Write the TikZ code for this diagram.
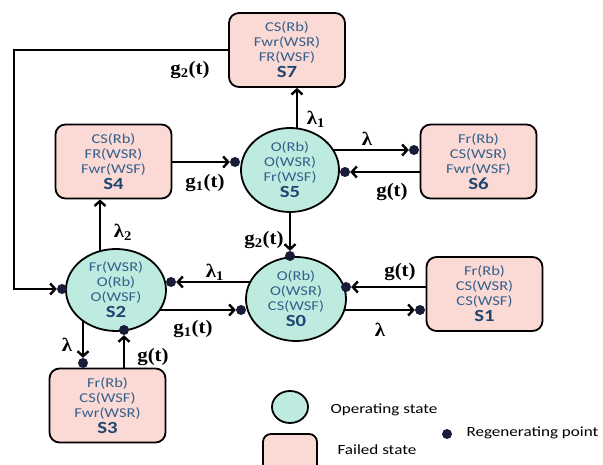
\documentclass[tikz,border=0pt]{standalone}
\usepackage{amsmath}
\usepackage{fontspec}
\setmainfont{Carlito}[FakeStretch=1.22]
\newfontfamily\ratefont{Liberation Serif}[FakeStretch=1.1]
\usetikzlibrary{shapes.geometric,arrows.meta,backgrounds}
\definecolor{failpink}{RGB}{251,217,212}
\definecolor{optcol}{RGB}{190,235,224}
\definecolor{txtblue}{RGB}{52,96,140}
\definecolor{stblue}{RGB}{31,70,112}
\definecolor{dotcol}{RGB}{24,28,54}
\tikzset{
  failbox/.style={draw,line width=1.8pt,rounded corners=10pt,fill=failpink,minimum width=116pt,minimum height=74pt,
    align=center,text=txtblue,font=\fontsize{13.5}{15}\selectfont,inner sep=1pt},
  opstate/.style={draw,ellipse,line width=1.8pt,fill=optcol,minimum width=#1,minimum height=84pt,inner sep=0pt,
    align=center,text=txtblue,font=\fontsize{13.5}{15}\selectfont},
  regpt/.style={circle,fill=dotcol,inner sep=0pt,minimum size=10pt},
  conn/.style={line width=2.4pt,-{Straight Barb[length=5pt,width=11pt,line width=2.4pt]}},
  lbl/.style={font=\ratefont\bfseries\fontsize{19}{21}\selectfont},
  legtxt/.style={anchor=west,font=\fontsize{14}{16}\selectfont}
}
\newcommand{\stname}[1]{\\[1pt]{\color{stblue}\bfseries\fontsize{17}{18}\selectfont #1}}
\newcommand{\rate}[2]{#1\textsubscript{#2}}
\begin{document}
\begin{tikzpicture}[x=1pt,y=-1pt]
\useasboundingbox (0,0) rectangle (603,465);
% states
\node[failbox] (S7) at (287,50) {CS(Rb)\\Fwr(WSR)\\FR(WSF)\stname{S7}};
\node[failbox] (S4) at (113.5,161.5) {CS(Rb)\\FR(WSR)\\Fwr(WSF)\stname{S4}};
\node[failbox] (S6) at (478.5,161.5) {Fr(Rb)\\CS(WSR)\\Fwr(WSF)\stname{S6}};
\node[failbox] (S1) at (484.5,294) {Fr(Rb)\\CS(WSR)\\CS(WSF)\stname{S1}};
\node[failbox] (S3) at (107.5,405.5) {Fr(Rb)\\CS(WSF)\\Fwr(WSR)\stname{S3}};
\node[opstate=98pt] (S5) at (290,170) {O(Rb)\\O(WSR)\\Fr(WSF)\stname{S5}};
\node[opstate=100pt,minimum height=82pt] (S2) at (116,290) {Fr(WSR)\\O(Rb)\\O(WSF)\stname{S2}};
\node[opstate=100pt] (S0) at (296,299) {O(Rb)\\O(WSR)\\CS(WSF)\stname{S0}};
% regenerating points
\foreach \p/\xy in {dS2w/{62,289},dS5w/{235,162},dS6w/{414,150},dS5e/{345,172},dS0n/{290,256},
  dS2e/{171,282},dS0w/{241,310},dS0e/{346,287},dS1w/{420,310},dS3n/{83,363},dS2s/{124,330}}
  \node[regpt] (\p) at (\xy) {};
\coordinate (loop) at (14,170);
% transitions
\begin{scope}[on background layer]
\draw[conn] ([xshift=7pt]S5.center) -- ([xshift=10pt]S7.south);
\draw[conn] (S5.center |- dS6w) -- (dS6w);
\draw[conn] ([xshift=-13.5pt]S4.south |- S2.center) -- ([xshift=-13.5pt]S4.south);
\draw[conn] (S0.center |- dS2e) -- (dS2e);
\draw[conn] (S2.center |- dS0w) -- (dS0w);
\draw[conn] (S0.center |- dS1w) -- (dS1w);
\draw[conn] (S2.center -| dS3n) -- (dS3n);
\end{scope}
\draw[conn] (S7.west) -| (loop) |- (dS2w);
\draw[conn] (S4.east |- dS5w) -- (dS5w);
\draw[conn] (S6.west |- dS5e) -- (dS5e);
\draw[conn] (S5) -- (dS0n);
\draw[conn] (S1.west |- dS0e) -- (dS0e);
\draw[conn] (S3.north -| dS2s) -- (dS2s);
% rates
\node[lbl] (l1) at (190,70) {\rate{g}{2}(t)};
\node[lbl] (l2) at (316,119) {\rate{λ}{1}};
\node[lbl] (l3) at (205,183) {\rate{g}{1}(t)};
\node[lbl] (l4) at (367,139) {λ};
\node[lbl] (l5) at (392,192) {g(t)};
\node[lbl] (l6) at (264,240) {\rate{g}{2}(t)};
\node[lbl] (l7) at (123,232) {\rate{λ}{2}};
\node[lbl] (l8) at (215,272) {\rate{λ}{1}};
\node[lbl] (l9) at (193,329) {\rate{g}{1}(t)};
\node[lbl] (l10) at (400,272) {g(t)};
\node[lbl] (l11) at (380,330) {λ};
\node[lbl] (l12) at (67,345) {λ};
\node[lbl] (l13) at (153,357) {g(t)};
% legend
\node[draw,ellipse,line width=1.8pt,fill=optcol,minimum width=36pt,minimum height=32pt] (legop) at (290,407) {};
\node[legtxt] (legoptxt) at (327,410) {Operating state};
\draw[line width=1.8pt,rounded corners=8pt,fill=failpink] (263,476) rectangle (317,434);
\node[legtxt] (legfailtxt) at (334,450) {Failed state};
\node[regpt] (legreg) at (447,434) {};
\node[legtxt] (legregtxt) at (463,433) {Regenerating point};
\end{tikzpicture}
\end{document}
